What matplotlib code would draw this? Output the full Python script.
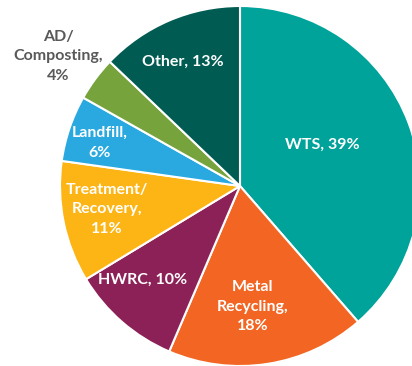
import numpy as np
import matplotlib
matplotlib.use("Agg")
import matplotlib.pyplot as plt

# waste destination shares (%), clockwise from 12 o'clock
labels = ["WTS", "Metal\nRecycling", "HWRC", "Treatment/\nRecovery", "Landfill",
          "AD/\nComposting", "Other"]
shares = [39, 18, 10, 11, 6, 4, 13]
colors = ["#00A39A", "#F26522", "#8C2157", "#FDB515", "#29A9E0", "#77A33D", "#005B52"]

# label spots in pie-radius units (text only)
label_xy = [(0.46, 0.23), (0.07, -0.67), (-0.54, -0.52), (-0.74, -0.13),
            (-0.78, 0.24), (-1.01, 0.72), (-0.32, 0.69)]
# "one line" or "break before the value"
label_sep = [", ", ",\n", ", ", ",\n", ",\n", ",\n", ", "]

plt.rcParams["font.family"] = ["Lato", "DejaVu Sans"]

fig = plt.figure(figsize=(4.12, 3.66), dpi=100)
ax = fig.add_axes([0, 0, 1, 1])

ax.pie(shares, colors=colors, startangle=90, counterclock=False, radius=1,
       wedgeprops=dict(edgecolor="white", linewidth=1.5))

for i, (lab, val) in enumerate(zip(labels, shares)):
    x, y = label_xy[i]
    txt = lab + label_sep[i] + f"{val}%"
    # AD/Composting sits outside the pie -> grey
    col = "#595959" if lab.startswith("AD") else "white"
    ax.text(x, y, txt, ha="center", va="center", color=col, fontsize=11.5,
            fontweight="bold", linespacing=1.5)

# center at (240, 186) px, radius 180 px
s = 180.0
ax.set_xlim(-240 / s, (412 - 240) / s)
ax.set_ylim(-(366 - 186) / s, 186 / s)
ax.axis("off")

fig.savefig("out.png", dpi=100)
